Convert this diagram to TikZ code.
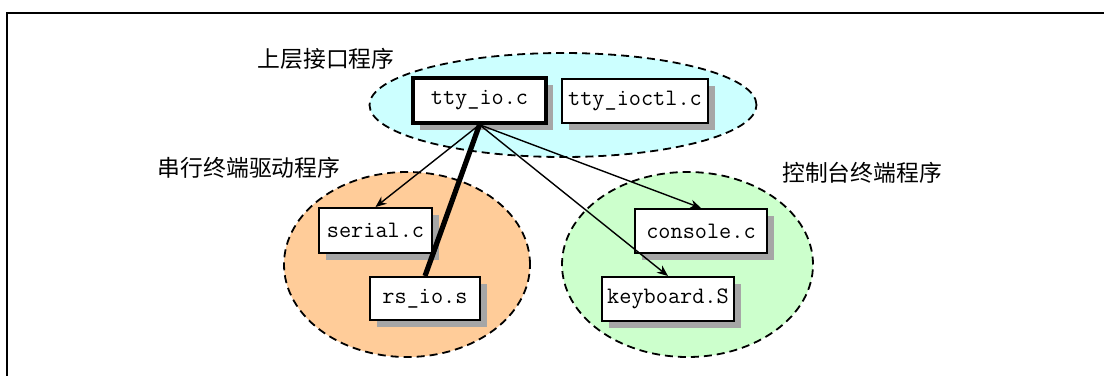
\documentclass[tikz,border=0pt]{standalone}
\usepackage{fontspec}
\newfontfamily\cjk{Noto Sans CJK SC}
\usepackage{xcolor}
\usepackage{tikz}
\usetikzlibrary{shapes.geometric, arrows.meta, shadows}
\definecolor{upperfill}{HTML}{CCFFFF}
\definecolor{serialfill}{HTML}{FFCC99}
\definecolor{consolefill}{HTML}{CCFFCC}
\tikzset{
    area/.style={ellipse, draw=black, dash pattern=on 4pt off 2.5pt, line width=0.9pt, inner sep=0pt},
    filebox/.style={rectangle, draw=black, fill=white, line width=1pt, text centered, font=\fontsize{11.8}{13}\selectfont\ttfamily, minimum height=22pt, inner sep=2pt, drop shadow={shadow xshift=3.5pt, shadow yshift=-3.5pt, fill=gray!70, opacity=1}},
    mainbox/.style={filebox, line width=1.7pt},
    grouplabel/.style={font=\fontsize{11.4}{13}\selectfont\cjk, inner sep=0pt},
    arrow/.style={line width=0.7pt, -{Stealth[length=5.5pt, width=4.5pt]}, color=black},
    line/.style={line width=2.6pt, color=black}
}

\begin{document}
\begin{tikzpicture}[x=0.5pt, y=-0.5pt]
    \useasboundingbox (0,0) rectangle (1104,376);
    % frame
    \draw [line width=1pt] (1104,13) -- (7,13) -- (7,376);

    % groups
    \node (upper) [area, fill=upperfill, minimum width=193.5pt, minimum height=52pt] at (563,105) {};
    \node (serialarea) [area, fill=serialfill, minimum width=123pt, minimum height=92.5pt] at (407,264.5) {};
    \node (consolearea) [area, fill=consolefill, minimum width=125.5pt, minimum height=92.5pt] at (687.5,264.5) {};

    \node (upperlabel) [grouplabel] at (326,59) {上层接口程序};
    \node (seriallabel) [grouplabel] at (249,168) {串行终端驱动程序};
    \node (consolelabel) [grouplabel] at (862,173) {控制台终端程序};

    % files
    \node (ttyio) [mainbox, minimum width=66.5pt, minimum height=22.5pt] at (479.5,100.5) {tty\_io.c};
    \node (ttyioctl) [filebox, minimum width=73pt] at (635,101) {tty\_ioctl.c};
    \node (serial) [filebox, minimum width=56.5pt, minimum height=22.5pt] at (375.5,230.5) {serial.c};
    \node (rsio) [filebox, minimum width=55pt, minimum height=21.5pt] at (425,298.5) {rs\_io.s};
    \node (console) [filebox, minimum width=66pt] at (701,231) {console.c};
    \node (keyboard) [filebox, minimum width=66pt] at (668,299) {keyboard.S};

    \draw [arrow] (ttyio.south) -- (serial.north);
    \draw [line] (ttyio.south) -- (rsio.north);
    \draw [arrow] (ttyio.south) -- (console.north);
    \draw [arrow] (ttyio.south) -- (keyboard.north);
\end{tikzpicture}
\end{document}
